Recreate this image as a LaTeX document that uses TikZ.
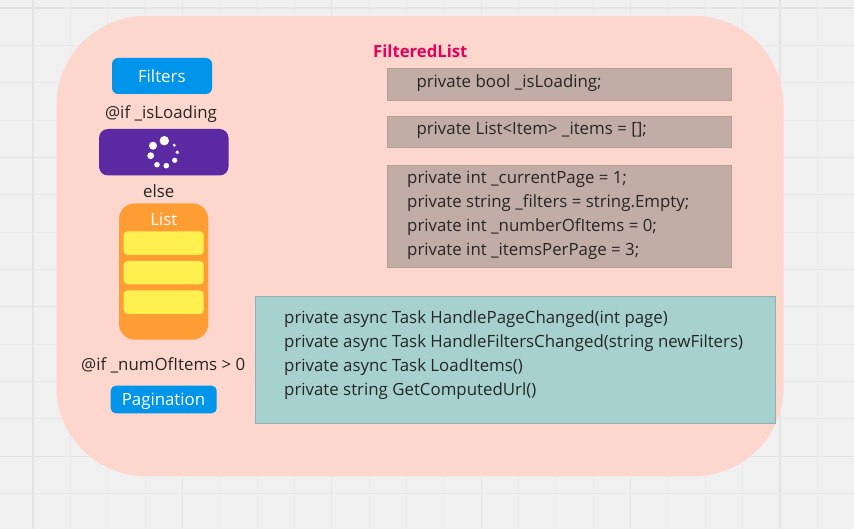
\documentclass[tikz,border=0pt]{standalone}
\usepackage{fontspec}
\setmainfont{Open Sans}
\definecolor{bgc}{HTML}{F0F0F0}
\definecolor{gmin}{HTML}{EAEAEA}
\definecolor{gmaj}{HTML}{E4E4E4}
\definecolor{panelc}{HTML}{FDD6CE}
\definecolor{bluec}{HTML}{0095EA}
\definecolor{purplec}{HTML}{5B2AA3}
\definecolor{orangec}{HTML}{FF9D35}
\definecolor{yellowc}{HTML}{FFF04F}
\definecolor{brownc}{HTML}{C2ADA6}
\definecolor{brownl}{HTML}{B39F99}
\definecolor{tealc}{HTML}{A6D1CE}
\definecolor{teall}{HTML}{93B0AC}
\definecolor{titlec}{HTML}{E6005C}
\definecolor{inkc}{HTML}{262626}
\tikzset{
  x=1pt,y=-1pt,
  txt/.style={inner sep=0,anchor=base,text=inkc,font=\fontsize{16.85}{24}\selectfont},
  code/.style={txt,anchor=base west},
  wtxt/.style={inner sep=0,anchor=base,text=white,font=\fontsize{16.85}{24}\selectfont},
  minorgrid/.style={gmin,line width=1pt},
  majorgrid/.style={gmaj,line width=1.2pt},
  brownbox/.style={fill=brownc,draw=brownl,line width=1pt},
  tealbox/.style={fill=tealc,draw=teall,line width=1pt},
  dot/.style={fill=white,draw=none}
}
\begin{document}
\begin{tikzpicture}
\useasboundingbox (0,0) rectangle (854,529);
\fill[bgc] (0,0) rectangle (854,529);
\begin{scope}
\clip (0,0) rectangle (854,529);
\foreach \i in {0,...,22} {
  \pgfmathsetmacro{\gx}{33+37.35*\i}
  \pgfmathparse{mod(\i,4)==0?1:0}
  \ifnum\pgfmathresult=1 \draw[majorgrid] (\gx,0) -- (\gx,529);
  \else \draw[minorgrid] (\gx,0) -- (\gx,529); \fi
}
\foreach \i in {0,...,13} {
  \pgfmathsetmacro{\gy}{8+37.35*\i}
  \pgfmathparse{mod(\i,4)==0?1:0}
  \ifnum\pgfmathresult=1 \draw[majorgrid] (0,\gy) -- (854,\gy);
  \else \draw[minorgrid] (0,\gy) -- (854,\gy); \fi
}
\end{scope}
% panel
\fill[panelc,rounded corners=89pt] (56.5,16) rectangle (783.5,476);
% left column
\fill[bluec,rounded corners=6pt] (112,58) rectangle (212,94);
\node[wtxt] (filters) at (161.8,82.3) {Filters};
\node[txt] (ifloading) at (161,119) {@if \_isLoading};
\fill[purplec,rounded corners=9pt] (99,129) rectangle (228.5,175.5);
\fill[dot] (164.3,140.7) circle (4.7);
\fill[dot] (153,145.7) circle (4);
\fill[dot] (150.7,155.7) circle (3.4);
\fill[dot] (157,164.7) circle (2.8);
\fill[dot] (166.3,165.7) circle (2.8);
\fill[dot] (174.7,160.3) circle (2.6);
\fill[dot] (177.3,152.3) circle (1.9);
\fill[dot] (174.3,145.3) circle (1.6);
\node[txt] (else) at (158.8,197.7) {else};
\fill[orangec,rounded corners=16pt] (119,203.3) rectangle (208.3,339.7);
\node[wtxt] (list) at (163.8,225.3) {List};
\fill[yellowc,rounded corners=4pt] (123.7,231.3) rectangle (203.7,255);
\fill[yellowc,rounded corners=4pt] (123.7,261) rectangle (203.7,284.3);
\fill[yellowc,rounded corners=4pt] (123.7,290.3) rectangle (203.7,314);
\node[txt] (ifnum) at (163.2,370) {@if \_numOfItems > 0};
\fill[bluec,rounded corners=5pt] (110.7,385.7) rectangle (216.7,413.3);
\node[wtxt] (pagination) at (163.5,405.7) {Pagination};
% right column
\node[anchor=base west,inner sep=0,text=titlec,font=\fontsize{16.7}{20}\selectfont\bfseries] (title) at (373,57.5) {FilteredList};
\draw[brownbox] (387.3,68.8) rectangle (731.5,100.5);
\draw[brownbox] (387.3,116.8) rectangle (731.5,147.5);
\draw[brownbox] (387.3,165.3) rectangle (731.5,267.5);
\node[code] (f1) at (416.3,87.7) {private bool \_isLoading;};
\node[code] (f2) at (416.3,135) {private List<Item> \_items = [];};
\node[code] (f3) at (407,183.5) {private int \_currentPage = 1;};
\node[code] (f4) at (407,207.5) {private string \_filters = string.Empty;};
\node[code] (f5) at (407,231.5) {private int \_numberOfItems = 0;};
\node[code] (f6) at (407,255.5) {private int \_itemsPerPage = 3;};
\draw[tealbox] (255.3,296.3) rectangle (775,423.7);
\node[code] (m1) at (284,323.3) {private async Task HandlePageChanged(int page)};
\node[code] (m2) at (284,347.3) {private async Task HandleFiltersChanged(string newFilters)};
\node[code] (m3) at (284,371.2) {private async Task LoadItems()};
\node[code] (m4) at (284,395.2) {private string GetComputedUrl()};
\end{tikzpicture}
\end{document}
